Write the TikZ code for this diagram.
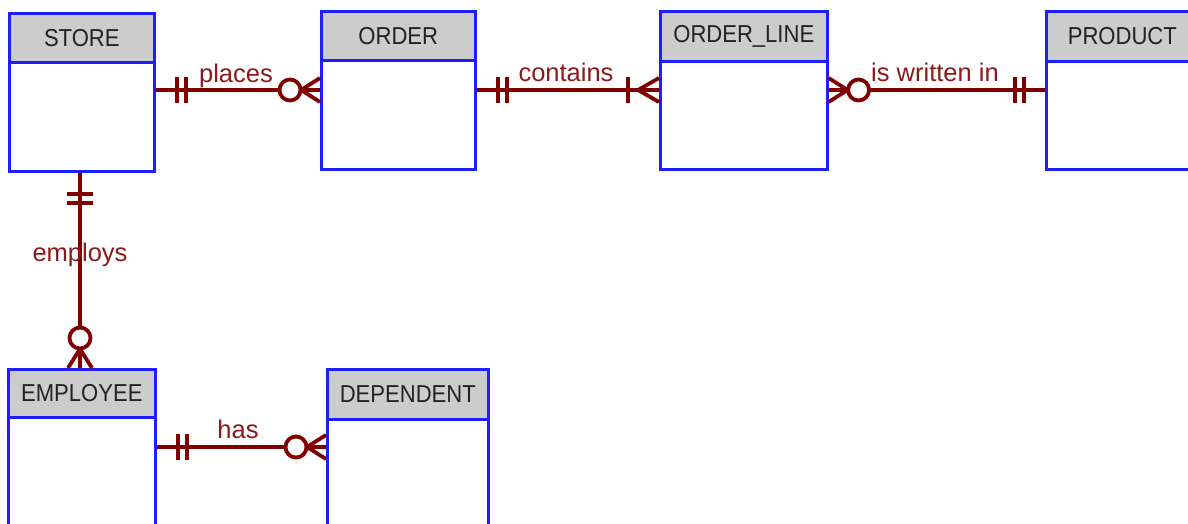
\documentclass[tikz,border=0pt]{standalone}
\usepackage{fontspec}
\setmainfont{Liberation Sans}
\newfontfamily\hdrfont[FakeStretch=0.9]{Liberation Sans}
\definecolor{relc}{RGB}{128,0,0}
\definecolor{lblc}{RGB}{140,25,25}
\definecolor{entb}{RGB}{30,30,255}
\definecolor{hdrf}{RGB}{204,204,204}
\definecolor{hdrt}{RGB}{34,34,34}
\tikzset{
 hdr/.style={draw=entb, line width=2.6pt, fill=hdrf, inner sep=0pt, anchor=north west, font=\hdrfont\fontsize{24.5}{28}\selectfont, text=hdrt},
 bodybox/.style={draw=entb, line width=2.6pt, fill=white, inner sep=0pt, anchor=north west},
 rel/.style={draw=relc, line width=3.8pt},
 rlabel/.style={text=lblc, font=\fontsize{25.5}{30}\selectfont, inner sep=0pt, anchor=base},
 pics/mandone/.style={code={\draw[rel] (-21,-13)--(-21,13) (-30,-13)--(-30,13);}},
 pics/zeromany/.style={code={\draw[rel] (0,-12)--(-19,0)--(0,12) (-19,0)--(0,0); \draw[rel, fill=white] (-30,0) circle[radius=10.5];}},
 pics/onemany/.style={code={\draw[rel] (0,-12)--(-21,0)--(0,12) (-21,0)--(0,0) (-31,-13)--(-31,13);}},
}
\newcommand{\erent}[7]{%
 \node[hdr, minimum width={(#3)-(#2)}, minimum height={(#5)-(#4)}] (#1H) at (#2,#4) {#7};
 \node[bodybox, minimum width={(#3)-(#2)}, minimum height={(#6)-(#5)}] (#1B) at (#2,#5) {};
}
\begin{document}
\begin{tikzpicture}[x=1pt,y=-1pt]
\clip (0,0) rectangle (1188,523);
\fill[white] (0,0) rectangle (1188,523);
% entities
\erent{store}{8}{153}{12}{61}{170}{STORE}
\erent{order}{320}{474}{10}{59}{168}{ORDER}
\erent{oline}{659}{826}{10}{60}{168}{ORDER\_LINE}
\erent{prod}{1045}{1197}{10}{60}{168}{PRODUCT}
\erent{emp}{7}{154}{368}{416}{545}{EMPLOYEE}
\erent{dep}{326}{487}{368}{418}{545}{DEPENDENT}
% places
\coordinate (a1) at ([yshift=-29pt]storeB.north east);
\coordinate (a2) at (orderB.west |- a1);
\draw[rel] (a1) -- (a2);
\pic[rotate=180] at (a1) {mandone};
\pic at (a2) {zeromany};
\node[rlabel] (l1) at (236,82) {places};
% contains
\coordinate (b1) at ([yshift=-31pt]orderB.north east);
\coordinate (b2) at (olineB.west |- b1);
\draw[rel] (b1) -- (b2);
\pic[rotate=180] at (b1) {mandone};
\pic at (b2) {onemany};
\node[rlabel] (l2) at (566,81) {contains};
% is written in
\coordinate (c1) at ([yshift=-30pt]olineB.north east);
\coordinate (c2) at (prodB.west |- c1);
\draw[rel] (c1) -- (c2);
\pic[rotate=180] at (c1) {zeromany};
\pic at (c2) {mandone};
\node[rlabel] (l3) at (935,81) {is written in};
% employs
\coordinate (d1) at ([xshift=72pt]storeB.south west);
\coordinate (d2) at (d1 |- empH.north);
\draw[rel] (d1) -- (d2);
\pic[rotate=90] at (d1) {mandone};
\pic[rotate=-90] at (d2) {zeromany};
\node[rlabel] (l4) at (80,261) {employs};
% has
\coordinate (e1) at ([yshift=-31pt]empB.north east);
\coordinate (e2) at (depB.west |- e1);
\draw[rel] (e1) -- (e2);
\pic[rotate=180] at (e1) {mandone};
\pic at (e2) {zeromany};
\node[rlabel] (l5) at (238,438) {has};
\end{tikzpicture}
\end{document}
